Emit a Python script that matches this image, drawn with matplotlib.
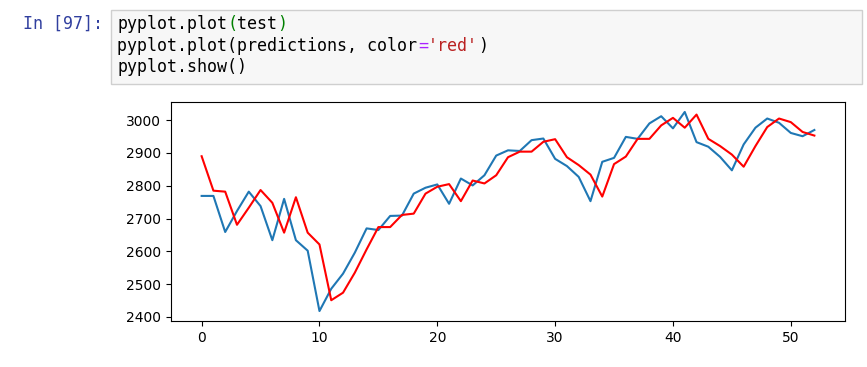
import matplotlib
matplotlib.use("Agg")
import matplotlib.pyplot as plt
from matplotlib.patches import Rectangle

test = [2769, 2769, 2659, 2723, 2782, 2738, 2634, 2760, 2634, 2602,
        2418, 2486, 2532, 2596, 2670, 2665, 2708, 2709, 2776, 2794,
        2804, 2745, 2822, 2801, 2832, 2892, 2908, 2906, 2939, 2944,
        2882, 2860, 2827, 2753, 2873, 2885, 2949, 2943, 2990, 3012,
        2975, 3025, 2933, 2919, 2888, 2847, 2926, 2977, 3005, 2992,
        2961, 2951, 2970]
predictions = [2890, 2785, 2782, 2681, 2733, 2787, 2748, 2657, 2765, 2657,
               2621, 2451, 2474, 2535, 2606, 2674, 2674, 2711, 2715, 2776,
               2797, 2805, 2753, 2816, 2807, 2832, 2887, 2904, 2904, 2934,
               2942, 2887, 2863, 2834, 2767, 2866, 2889, 2943, 2943, 2984,
               3007, 2977, 3017, 2943, 2921, 2895, 2858, 2921, 2979, 3005,
               2994, 2964, 2953]

W, H = 867, 367
fig = plt.figure(figsize=(W / 100, H / 100), dpi=100)

# notebook cell
fig.patches.append(Rectangle((111 / W, 1 - 84 / H), (862 - 111) / W, 74 / H,
                             transform=fig.transFigure, facecolor="#f7f7f7",
                             edgecolor="#cfcfcf", linewidth=1))
fig.text(23 / W, 1 - 29 / H, "In [97]:", family="DejaVu Sans Mono", fontsize=12,
         color="#303F9F", va="baseline")

cw = 10.03
lines = [
    [("pyplot.plot", "black"), ("(", "#008000"), ("test", "black"), (")", "#008000")],
    [("pyplot.plot(predictions, color", "black"), ("=", "#AA22FF"),
     ("'red'", "#BA2121"), (")", "black")],
    [("pyplot.show()", "black")],
]
for row, parts in zip([29, 51, 72], lines):
    n = 0
    for s, c in parts:
        fig.text((117 + n * cw) / W, 1 - row / H, s, family="DejaVu Sans Mono",
                 fontsize=12, color=c, va="baseline")
        n += len(s)

ax = fig.add_axes([171 / W, 1 - 321 / H, (845 - 171) / W, (321 - 102) / H])
ax.plot(test)
ax.plot(predictions, color="red")
ax.set_yticks([2400, 2500, 2600, 2700, 2800, 2900, 3000])
ax.set_xticks([0, 10, 20, 30, 40, 50])

fig.savefig("out.png", dpi=100)
